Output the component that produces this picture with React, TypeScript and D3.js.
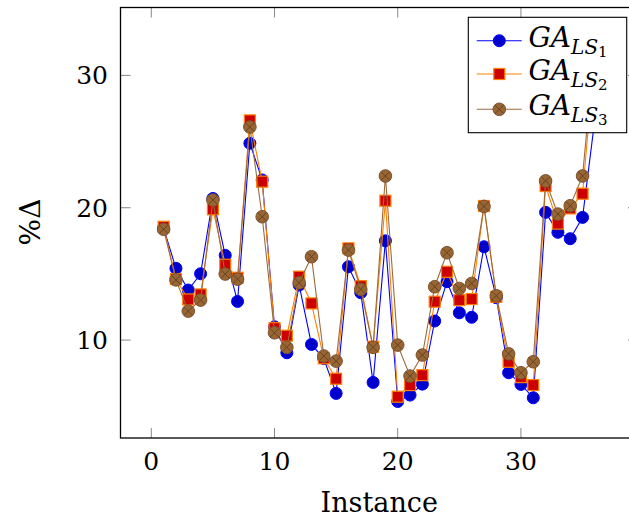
import React from "react";
import * as d3 from "d3";

const instances = [1,2,3,4,5,6,7,8,9,10,11,12,13,14,15,16,17,18,19,20,21,22,23,24,25,26,27,28,29,30,31,32,33,34,35,36];
const ls1 = [18.45,15.42,13.78,15.01,20.7,16.4,12.92,24.87,22.1,11.0,9.04,14.16,9.67,8.6,5.97,15.54,13.58,6.8,17.5,5.36,5.84,6.67,11.44,14.41,12.06,11.72,17.05,13.2,7.53,6.65,5.64,19.65,18.14,17.66,19.27,26.7];
const ls2 = [18.56,14.61,13.07,13.45,19.88,15.69,14.71,26.6,21.97,10.9,10.33,14.79,12.77,8.62,7.08,16.93,14.08,9.5,20.53,5.72,6.6,7.35,12.9,15.16,13.02,13.1,20.13,13.27,8.36,7.2,6.6,21.64,18.8,19.95,21.06,31.8];
const ls3 = [18.37,14.55,12.19,13.02,20.58,14.99,14.6,26.1,19.32,10.55,9.45,14.33,16.3,8.79,8.41,16.8,13.83,9.45,22.4,9.62,7.28,8.87,14.03,16.6,13.9,14.28,20.1,13.35,8.96,7.53,8.36,22.03,19.52,20.15,22.4,32.4];
const xTicks = [0, 10, 20, 30];
const yTicks = [10, 20, 30];
const seriesNames = ["1", "2", "3"];
const xLabel = "Instance";
const yLabel = "%Δ";

const W = 629, H = 519;
const left = 120.5, right = 638, top = 7.5, bottom = 438;
const FONT = "DejaVu Serif, serif";

export default function App() {
  const x = d3.scaleLinear().domain([-2.5, 39.5]).range([left, right]);
  const y = d3.scaleLinear().domain([2.6, 35.13]).range([bottom, top]);
  const mk = (vals: number[]) =>
    d3.line<number>().x((_, i) => x(instances[i])).y((v) => y(v))(vals) || "";

  const series = [
    { vals: ls1, line: "#0000ff", kind: "circle" },
    { vals: ls2, line: "#ff8000", kind: "square" },
    { vals: ls3, line: "#9c6b3c", kind: "otimes" },
  ];

  const marker = (kind: string, cx: number, cy: number, key: string) => {
    if (kind === "circle")
      return <circle key={key} cx={cx} cy={cy} r={6} fill="#0000cc" stroke="#0000ff" strokeWidth={1} />;
    if (kind === "square")
      return <rect key={key} x={cx - 5.5} y={cy - 5.5} width={11} height={11} fill="#cc0000" stroke="#ff8000" strokeWidth={1.2} />;
    const d = 6 * Math.SQRT1_2;
    return (
      <g key={key}>
        <circle cx={cx} cy={cy} r={6.3} fill="#996633" stroke="#7a5230" strokeWidth={1} />
        <path d={`M${cx - d},${cy - d}L${cx + d},${cy + d}M${cx - d},${cy + d}L${cx + d},${cy - d}`} stroke="#5e3f20" strokeWidth={0.9} />
      </g>
    );
  };

  const tickLen = 10;
  const legendRows = [40.7, 74, 109.3];

  return (
    <svg width={W} height={H} style={{ position: "absolute", left: 0, top: 0 }} fontFamily={FONT}>
      <rect x={0} y={0} width={W} height={H} fill="#fff" />
      {xTicks.map((t) => (
        <g key={"xt" + t}>
          <line x1={x(t)} x2={x(t)} y1={bottom} y2={bottom - tickLen} stroke="#888" strokeWidth={1} />
          <line x1={x(t)} x2={x(t)} y1={top} y2={top + tickLen} stroke="#888" strokeWidth={1} />
          <text x={x(t)} y={470} textAnchor="middle" fontSize={25} fill="#000">{t}</text>
        </g>
      ))}
      {yTicks.map((t) => (
        <g key={"yt" + t}>
          <line x1={left} x2={left + tickLen} y1={y(t)} y2={y(t)} stroke="#888" strokeWidth={1} />
          <line x1={right} x2={right - tickLen} y1={y(t)} y2={y(t)} stroke="#888" strokeWidth={1} />
          <text x={108} y={y(t)} dy="0.36em" textAnchor="end" fontSize={25} fill="#000">{t}</text>
        </g>
      ))}
      {series.map((s, si) => (
        <g key={"s" + si}>
          <path d={mk(s.vals)} fill="none" stroke={s.line} strokeWidth={1.1} />
          {s.vals.map((v, i) => marker(s.kind, x(instances[i]), y(v), `m${si}-${i}`))}
        </g>
      ))}
      <rect x={left} y={top} width={right - left} height={bottom - top} fill="none" stroke="#000" strokeWidth={1.3} />
      <rect x={468.3} y={17.3} width={158.4} height={115.4} fill="#fff" stroke="#000" strokeWidth={1.1} />
      {series.map((s, si) => (
        <g key={"lg" + si}>
          <line x1={476.7} x2={521.7} y1={legendRows[si]} y2={legendRows[si]} stroke={s.line} strokeWidth={1.1} />
          {marker(s.kind, 499.3, legendRows[si], "lm" + si)}
          <text x={528.5} y={legendRows[si] + 6} fontSize={28} fontStyle="italic" fill="#000">
            GA
            <tspan dy={7} fontSize={20}>LS</tspan>
            <tspan dy={3} fontSize={15} fontStyle="normal">{seriesNames[si]}</tspan>
          </text>
        </g>
      ))}
      <text x={(left + right) / 2} y={512} textAnchor="middle" fontSize={27} fill="#000">{xLabel}</text>
      <text transform="translate(40,222) rotate(-90)" textAnchor="middle" fontSize={28} fill="#000">{yLabel}</text>
    </svg>
  );
}
